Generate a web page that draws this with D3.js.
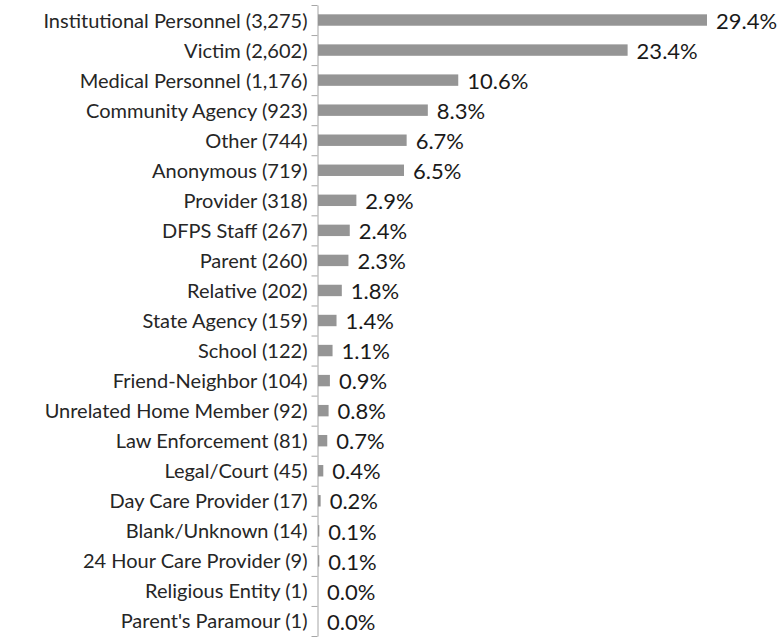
<!DOCTYPE html>
<html>
<head>
<meta charset="utf-8">
<script src="https://cdn.jsdelivr.net/npm/d3@7"></script>
<style>
  body { margin: 0; background: #fff; }
  svg { display: block; }
</style>
</head>
<body>
<div id="chart"></div>
<script>
// Source of report data
const categories = [
  'Institutional Personnel', 'Victim', 'Medical Personnel', 'Community Agency',
  'Other', 'Anonymous', 'Provider', 'DFPS Staff', 'Parent', 'Relative',
  'State Agency', 'School', 'Friend-Neighbor', 'Unrelated Home Member',
  'Law Enforcement', 'Legal/Court', 'Day Care Provider', 'Blank/Unknown',
  '24 Hour Care Provider', 'Religious Entity', "Parent's Paramour"
];
const counts = [3275, 2602, 1176, 923, 744, 719, 318, 267, 260, 202, 159, 122, 104, 92, 81, 45, 17, 14, 9, 1, 1];
const percents = [29.4, 23.4, 10.6, 8.3, 6.7, 6.5, 2.9, 2.4, 2.3, 1.8, 1.4, 1.1, 0.9, 0.8, 0.7, 0.4, 0.2, 0.1, 0.1, 0.0, 0.0];

const width = 781, height = 638;
const margin = { top: 5, right: 74, bottom: 2, left: 317.5 };
const fontFamily = 'Lato, "DejaVu Sans", sans-serif';
const barColor = '#959595';
const axisColor = '#a6a6a6';

const svg = d3.select('#chart')
  .append('svg')
  .attr('width', width)
  .attr('height', height);

const y = d3.scaleBand()
  .domain(categories)
  .range([margin.top, height - margin.bottom])
  .paddingInner(0.62)
  .paddingOuter(0.31);

const x = d3.scaleLinear()
  .domain([0, d3.max(percents)])
  .range([margin.left + 0.5, 707]);

// boundary ticks between categories (Excel style)
const edge = d3.scaleLinear()
  .domain([0, categories.length])
  .range([margin.top, height - margin.bottom]);

const axis = svg.append('g')
  .attr('transform', `translate(${margin.left}, 0)`)
  .call(d3.axisLeft(edge)
    .tickValues(d3.range(categories.length + 1))
    .tickSize(6)
    .tickSizeOuter(0)
    .tickFormat(''));

axis.selectAll('path, line')
  .attr('stroke', axisColor)
  .attr('stroke-width', 1);

// bars
svg.append('g')
  .selectAll('rect')
  .data(percents)
  .join('rect')
  .attr('x', x(0))
  .attr('y', (d, i) => y(categories[i]))
  .attr('width', d => Math.max(0, x(d) - x(0)))
  .attr('height', y.bandwidth())
  .attr('fill', barColor);

// category labels with counts
svg.append('g')
  .selectAll('text')
  .data(categories)
  .join('text')
  .attr('x', margin.left - 10)
  .attr('y', d => y(d) + y.bandwidth() / 2 + 0.5)
  .attr('dy', '0.35em')
  .attr('text-anchor', 'end')
  .style('font-family', fontFamily)
  .style('font-size', '20px')
  .style('fill', '#262626')
  .text((d, i) => `${d} (${d3.format(',')(counts[i])})`);

// percentage labels
svg.append('g')
  .selectAll('text')
  .data(percents)
  .join('text')
  .attr('x', d => x(d) + 9)
  .attr('y', (d, i) => y(categories[i]) + y.bandwidth() / 2 + 1)
  .attr('dy', '0.35em')
  .style('font-family', fontFamily)
  .style('font-size', '22px')
  .style('fill', '#1a1a1a')
  .text(d => d3.format('.1f')(d) + '%');
</script>
</body>
</html>
